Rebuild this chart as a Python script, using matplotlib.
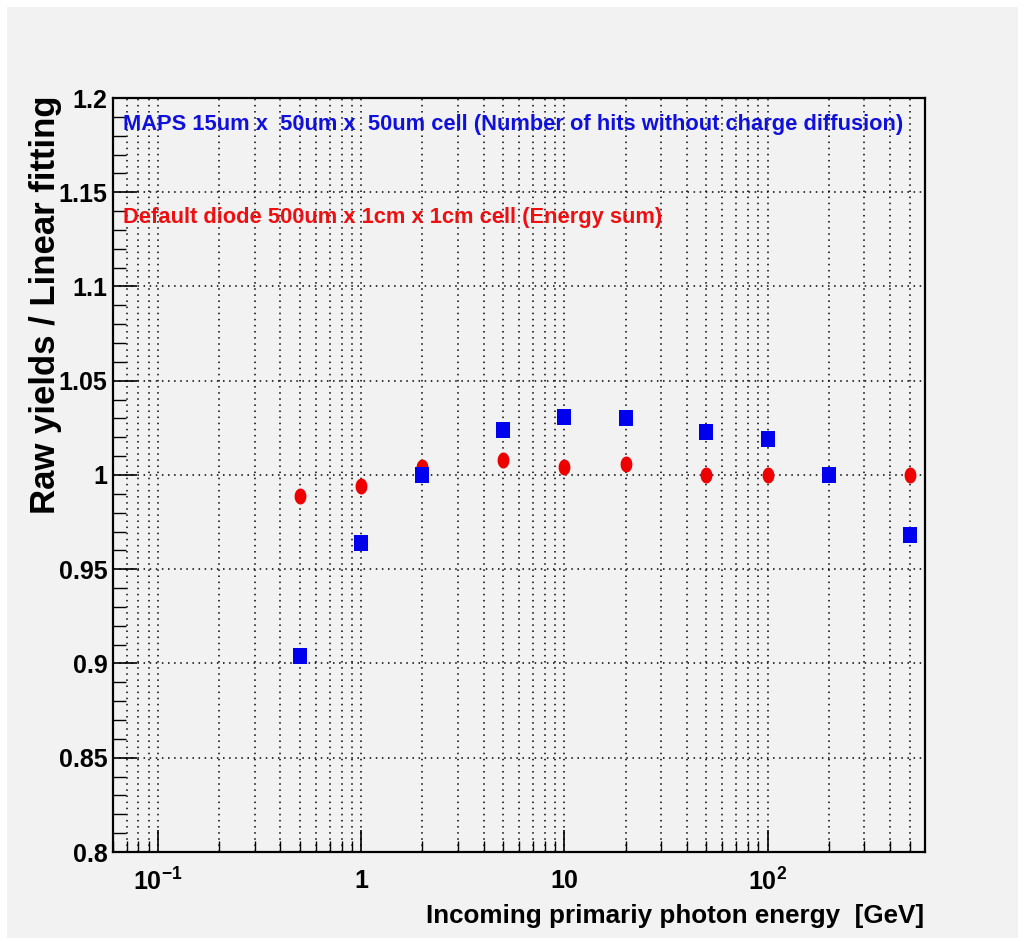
import matplotlib
matplotlib.use("Agg")
import matplotlib.pyplot as plt
import numpy as np
from matplotlib import font_manager
from matplotlib.path import Path
from matplotlib.patches import Rectangle
from matplotlib.ticker import FixedLocator, FixedFormatter, NullFormatter

# ---- data ----
energy_maps = [0.5, 1, 2, 5, 10, 20, 50, 100, 200, 500]
ratio_maps = [0.904, 0.964, 1.000, 1.024, 1.031, 1.030, 1.023, 1.019, 1.000, 0.968]
energy_diode = [0.5, 1, 2, 5, 10, 20, 50, 100, 500]
ratio_diode = [0.989, 0.994, 1.004, 1.008, 1.004, 1.006, 1.000, 1.000, 1.000]
xtick_vals = [0.1, 1, 10, 100]
xtick_labels = ["10$^{-1}$", "1", "10", "10$^{2}$"]
ytick_vals = [0.8, 0.85, 0.9, 0.95, 1.0, 1.05, 1.1, 1.15, 1.2]
ytick_labels = ["0.8", "0.85", "0.9", "0.95", "1", "1.05", "1.1", "1.15", "1.2"]
label_maps = "MAPS 15um x  50um x  50um cell (Number of hits without charge diffusion)"
label_diode = "Default diode 500um x 1cm x 1cm cell (Energy sum)"
xlabel = "Incoming primariy photon energy  [GeV]"
ylabel = "Raw yields / Linear fitting"

def has_font(name):
    try:
        font_manager.findfont(font_manager.FontProperties(family=name), fallback_to_default=False)
        return True
    except Exception:
        return False

narrow = "Liberation Sans Narrow" if has_font("Liberation Sans Narrow") else "Liberation Sans"
wide = "Liberation Sans"
nscale = 1.0 if narrow == "Liberation Sans Narrow" else 0.82

plt.rcParams["mathtext.fontset"] = "custom"
plt.rcParams["mathtext.rm"] = narrow + ":bold"
plt.rcParams["mathtext.it"] = narrow + ":bold"
plt.rcParams["mathtext.bf"] = narrow + ":bold"
plt.rcParams["mathtext.default"] = "rm"

W, H = 1026, 941
fig = plt.figure(figsize=(W / 100, H / 100), dpi=100, facecolor="white")
bg = Rectangle((7 / W, 1 - 938 / H), (1018 - 7) / W, (938 - 7) / H,
               transform=fig.transFigure, facecolor="#f2f2f2", edgecolor="none", zorder=-10)
fig.patches.append(bg)

ax = fig.add_axes([113 / W, 1 - 852 / H, (925 - 113) / W, (852 - 98) / H], zorder=1)
ax.set_facecolor("#f2f2f2")
ax.set_xscale("log")
ax.set_xlim(0.06, 596)
ax.set_ylim(0.8, 1.2)

# markers: slightly narrow shapes
t = np.linspace(0, 2 * np.pi, 60)
ell = Path(np.column_stack([0.37 * np.cos(t), 0.5 * np.sin(t)]), closed=True)
sq = Path([(-0.4, -0.5), (0.4, -0.5), (0.4, 0.5), (-0.4, 0.5), (-0.4, -0.5)], closed=True)

ax.plot(energy_diode, ratio_diode, linestyle="none", marker=ell, markersize=11.5,
        color="#ee0000", markeredgewidth=0, zorder=3)
ax.plot(energy_maps, ratio_maps, linestyle="none", marker=sq, markersize=12,
        color="#0000ee", markeredgewidth=0, zorder=4)

# ticks
ax.xaxis.set_major_locator(FixedLocator(xtick_vals))
ax.xaxis.set_major_formatter(FixedFormatter(xtick_labels))
minors = [m * d for d in [0.01, 0.1, 1, 10, 100] for m in range(2, 10)]
minors = [v for v in minors if 0.06 <= v <= 596]
ax.xaxis.set_minor_locator(FixedLocator(minors))
ax.xaxis.set_minor_formatter(NullFormatter())
ax.yaxis.set_major_locator(FixedLocator(ytick_vals))
ax.yaxis.set_major_formatter(FixedFormatter(ytick_labels))
ax.yaxis.set_minor_locator(FixedLocator(np.round(np.arange(0.8, 1.2001, 0.01), 3)))

ax.tick_params(axis="x", which="major", direction="in", length=16, width=1.2, pad=12,
               top=False, labelsize=22 * nscale)
ax.tick_params(axis="x", which="minor", direction="in", length=8, width=1.0, top=False)
ax.tick_params(axis="y", which="major", direction="in", length=17, width=1.2, pad=4,
               right=False, labelsize=22 * nscale)
ax.tick_params(axis="y", which="minor", direction="in", length=9, width=1.0, right=False)
for lab in ax.get_xticklabels() + ax.get_yticklabels():
    lab.set_fontfamily(narrow)
    lab.set_fontweight("bold")

ax.grid(True, axis="x", which="both", linestyle=(0, (1, 3)), color="black", linewidth=1.1)
ax.grid(True, axis="y", which="major", linestyle=(0, (1, 3)), color="black", linewidth=1.1)
ax.set_axisbelow(True)
for s in ax.spines.values():
    s.set_linewidth(1.6)

ax.text(0.012, 0.9655, label_maps, transform=ax.transAxes, ha="left", va="center",
        color="#1010dd", fontsize=19.2 * nscale, fontweight="bold", family=narrow, zorder=5)
ax.text(0.012, 0.841, label_diode, transform=ax.transAxes, ha="left", va="center",
        color="#ee1010", fontsize=19.2 * nscale, fontweight="bold", family=narrow, zorder=5)

fig.text(924 / W, 1 - 923 / H, xlabel, ha="right", va="baseline", fontsize=22.8 * nscale,
         fontweight="bold", family=narrow)
fig.text(46 / W, 1 - 95 / H, ylabel, ha="center", va="top", rotation=90, fontsize=25,
         fontweight="bold", family=wide)

fig.savefig("out.png", dpi=100, facecolor=fig.get_facecolor())
